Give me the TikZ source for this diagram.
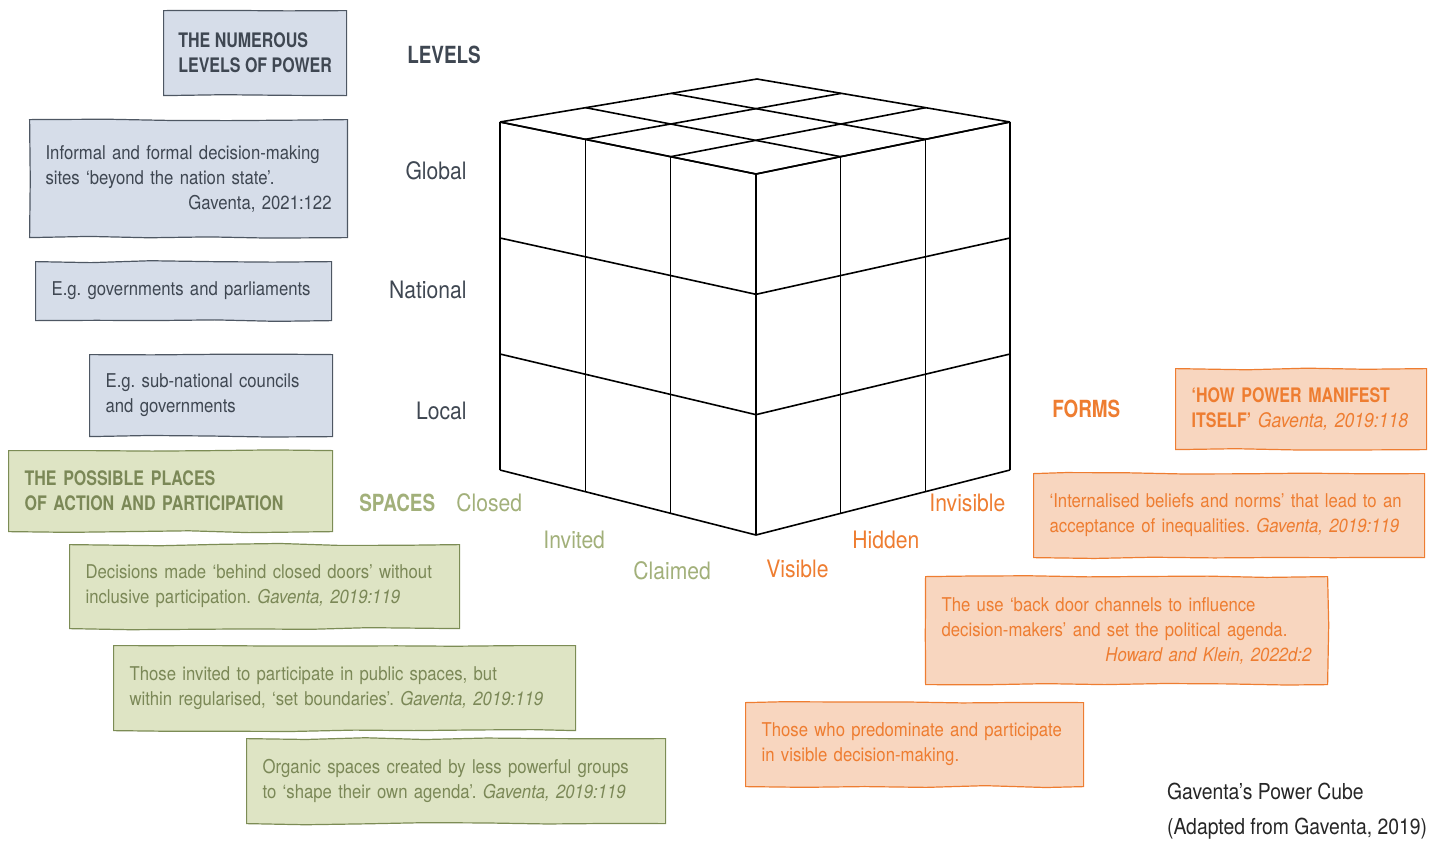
\documentclass[tikz,border=0pt]{standalone}
\usepackage{fontspec}
\setmainfont{TeX Gyre Heros}[FakeStretch=0.88,BoldFeatures={FakeStretch=0.8}]
\usetikzlibrary{calc,decorations.pathmorphing}
\frenchspacing

\definecolor{levelfill}{HTML}{D6DDE9}
\definecolor{levelline}{HTML}{4E5763}
\definecolor{leveltext}{HTML}{3F4752}
\definecolor{spacefill}{HTML}{DEE4C4}
\definecolor{spaceline}{HTML}{7C8C55}
\definecolor{spacetext}{HTML}{7B8857}
\definecolor{spacelabel}{HTML}{A2B07A}
\definecolor{formfill}{HTML}{F8D6BF}
\definecolor{formline}{HTML}{EE7D31}

\tikzset{
  cube/.style={line width=0.8pt, black},
  paperbox/.style={draw, line width=0.6pt, anchor=north west, align=left,
    inner xsep=8pt, inner ysep=0pt, font=\fontsize{9.5}{12.5}\selectfont,
    decorate, decoration={random steps, segment length=30pt, amplitude=0.6pt}},
  levelbox/.style={paperbox, draw=levelline, fill=levelfill, text=leveltext},
  spacebox/.style={paperbox, draw=spaceline, fill=spacefill, text=spacetext},
  formbox/.style={paperbox, draw=formline, fill=formfill, text=formline},
  headtext/.style={inner sep=0pt, font=\bfseries\fontsize{11.8}{14}\selectfont},
  axistext/.style={inner sep=0pt, font=\fontsize{12}{14}\selectfont},
  bigcaps/.style={font=\fontsize{10}{12.5}\selectfont}
}

\begin{document}
\begin{tikzpicture}[x=0.5pt,y=-0.5pt]
\useasboundingbox (0,0) rectangle (1442,843);

% Куб 3x3x3
\coordinate (A) at (500,122);
\coordinate (B) at (757,79);
\coordinate (R) at (1010,122);
\coordinate (F) at (756,174);
\coordinate (Ab) at (500,470);
\coordinate (Rb) at (1010,470);
\coordinate (Fb) at (756,535);

\foreach \t in {0,0.3333,0.6667,1} {
  \draw[cube] ($(A)!\t!(F)$) -- ($(Ab)!\t!(Fb)$);
  \draw[cube] ($(A)!\t!(Ab)$) -- ($(F)!\t!(Fb)$);
  \draw[cube] ($(F)!\t!(R)$) -- ($(Fb)!\t!(Rb)$);
  \draw[cube] ($(F)!\t!(Fb)$) -- ($(R)!\t!(Rb)$);
  \draw[cube] ($(A)!\t!(F)$) -- ($(B)!\t!(R)$);
  \draw[cube] ($(A)!\t!(B)$) -- ($(F)!\t!(R)$);
}

% Уровни
\node[headtext, text=leveltext] (levels) at (444,55) {LEVELS};
\node[axistext, text=leveltext, anchor=east] (global) at (467,171) {Global};
\node[axistext, text=leveltext, anchor=east] (national) at (467,290) {National};
\node[axistext, text=leveltext, anchor=east] (local) at (467,411) {Local};

% Пространства
\node[headtext, text=spacelabel, anchor=west] (spaces) at (359,503) {SPACES};
\node[axistext, text=spacelabel, anchor=west] (closed) at (456,503) {Closed};
\node[axistext, text=spacelabel, anchor=west] (invited) at (543,540) {Invited};
\node[axistext, text=spacelabel, anchor=west] (claimed) at (633,571) {Claimed};

% Формы
\node[headtext, text=formline, anchor=west] (forms) at (1052,409) {FORMS};
\node[axistext, text=formline, anchor=west] (visible) at (766,569) {Visible};
\node[axistext, text=formline, anchor=west] (hidden) at (852,540) {Hidden};
\node[axistext, text=formline, anchor=west] (invisible) at (929,503) {Invisible};

\pgfmathsetseed{685}
% Синие карточки
\node[levelbox, bigcaps, inner xsep=0pt, minimum width=91.5pt, minimum height=42.5pt] (levelsbox) at (163,10)
  {\textbf{THE NUMEROUS}\\\textbf{LEVELS OF POWER}};
\node[levelbox, text width=143pt, minimum height=59pt] (globalbox) at (29,119)
  {Informal and formal decision-making\\sites ‘beyond the nation state’.\\\hspace*{\fill}Gaventa, 2021:122};
\node[levelbox, text width=132pt, minimum height=29.5pt] (nationalbox) at (35,261)
  {E.g. governments and parliaments};
\node[levelbox, text width=105.5pt, minimum height=41pt] (localbox) at (89,354)
  {E.g. sub-national councils\\and governments};

% Зелёные карточки
\node[spacebox, bigcaps, text width=146pt, minimum height=40.5pt] (spacesbox) at (8,450)
  {\textbf{THE POSSIBLE PLACES}\\\textbf{OF ACTION AND PARTICIPATION}};
\node[spacebox, text width=179pt, minimum height=42pt] (closedbox) at (69,544)
  {Decisions made ‘behind closed doors’ without\\inclusive participation. \textit{Gaventa, 2019:119}};
\node[spacebox, text width=215pt, minimum height=42.5pt] (invitedbox) at (113,645)
  {Those invited to participate in public spaces, but\\within regularised, ‘set boundaries’. \textit{Gaventa, 2019:119}};
\node[spacebox, text width=193.5pt, minimum height=42.5pt] (claimedbox) at (246,738)
  {Organic spaces created by less powerful groups\\to ‘shape their own agenda’. \textit{Gaventa, 2019:119}};

% Оранжевые карточки
\node[formbox, bigcaps, text width=109.5pt, minimum height=40.5pt] (formsbox) at (1175,368)
  {\textbf{‘HOW POWER MANIFEST}\\\textbf{ITSELF’} \textit{Gaventa, 2019:118}};
\node[formbox, text width=179.5pt, minimum height=42pt] (invisiblebox) at (1033,473)
  {‘Internalised beliefs and norms’ that lead to an\\acceptance of inequalities. \textit{Gaventa, 2019:119}};
\node[formbox, text width=185pt, minimum height=54pt] (hiddenbox) at (925,576)
  {The use ‘back door channels to influence\\decision-makers’ and set the political agenda.\\\hspace*{\fill}\textit{Howard and Klein, 2022d:2}};
\node[formbox, text width=153pt, minimum height=42pt] (visiblebox) at (745,702)
  {Those who predominate and participate\\in visible decision-making.};

% Подпись
\node[anchor=west, align=left, font=\fontsize{11}{17.5}\selectfont, text=black!85] (caption) at (1160,811)
  {Gaventa’s Power Cube\\(Adapted from Gaventa, 2019)};

\end{tikzpicture}
\end{document}
